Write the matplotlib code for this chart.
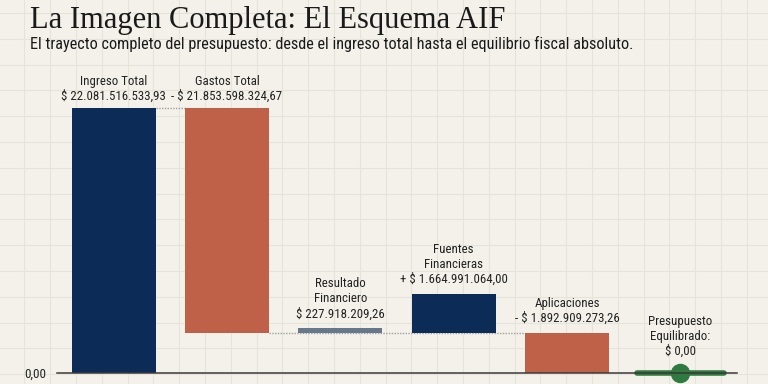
import numpy as np
import matplotlib
matplotlib.use("Agg")
import matplotlib.pyplot as plt
from matplotlib import font_manager

# ---- data ----
categories = ["Ingreso Total", "Gastos Total", "Resultado\nFinanciero",
              "Fuentes\nFinancieras", "Aplicaciones", "Presupuesto\nEquilibrado:"]
ingreso = 22081516533.93
gastos = 21853598324.67
resultado = 227918209.26
fuentes = 1664991064.00
aplicaciones = 1892909273.26
equilibrio = 0.00
value_labels = ["$ 22.081.516.533,93", "- $ 21.853.598.324,67", "$ 227.918.209,26",
                "+ $ 1.664.991.064,00", "- $ 1.892.909.273,26", "$ 0,00"]

# ---- style ----
BG = "#f3f1ea"
GRID = "#e6e3da"
NAVY = "#0c2b57"
RUST = "#bf6148"
SLATE = "#66788a"
GREEN = "#2f7a40"
TXT = "#222222"

names = {f.name for f in font_manager.fontManager.ttflist}
cond = [n for n in ["Roboto Condensed", "Liberation Sans Narrow", "Open Sans Condensed", "Noto Sans Condensed"] if n in names]
LABEL_FAMILY = cond[:1] + ["Roboto", "DejaVu Sans"]

W, H = 768, 384
fig = plt.figure(figsize=(W / 100, H / 100), dpi=100, facecolor=BG)

bg = fig.add_axes([0, 0, 1, 1], zorder=-10)
bg.set_xlim(0, W); bg.set_ylim(H, 0); bg.axis("off")
step = 25.8
for xg in np.arange(-1.5, W, step):
    bg.axvline(xg, color=GRID, lw=0.8, zorder=0)
for yg in np.arange(12.9, H, step):
    bg.axhline(yg, color=GRID, lw=0.8, zorder=0)

# piecewise visual scale (the reference chart is schematic, not linear)
knots_v = np.array([0.0, resultado, resultado + fuentes, ingreso])
knots_p = np.array([0.0, 40.0, 79.0, 265.0])
def fwd_arr(v):
    v = np.asarray(v, dtype=float)
    out = np.interp(v, knots_v, knots_p)
    out = np.where(v > ingreso, knots_p[-1] + (v - ingreso) * (knots_p[-1] - knots_p[-2]) / (knots_v[-1] - knots_v[-2]), out)
    out = np.where(v < 0, v * knots_p[1] / knots_v[1], out)
    return out
def inv_arr(p):
    p = np.asarray(p, dtype=float)
    out = np.interp(p, knots_p, knots_v)
    out = np.where(p > knots_p[-1], ingreso + (p - knots_p[-1]) * (knots_v[-1] - knots_v[-2]) / (knots_p[-1] - knots_p[-2]), out)
    out = np.where(p < 0, p * knots_v[1] / knots_p[1], out)
    return out

ax_left, ax_right = 57, 737
ax_bottom, ax_top = 373, 60
ax = fig.add_axes([ax_left / W, (H - ax_bottom) / H, (ax_right - ax_left) / W, (ax_bottom - ax_top) / H])
ax.set_facecolor("none")
ax.set_yscale("function", functions=(fwd_arr, inv_arr))
ax.set_xlim(-0.5, 5.5)
ax.set_ylim(0, inv_arr(ax_bottom - ax_top).item())

x = np.arange(len(categories))
bw = 0.74
thin_top = inv_arr(fwd_arr(resultado) + 5.5).item()
bottoms = [0, resultado, resultado, resultado, 0]
tops = [ingreso, ingreso, thin_top, resultado + fuentes, resultado]
colors = [NAVY, RUST, SLATE, NAVY, RUST]
for i in range(5):
    ax.bar(x[i], tops[i] - bottoms[i], bottom=bottoms[i], width=bw, color=colors[i], zorder=3)

# connectors
ax.plot([x[0] + bw / 2, x[1] - bw / 2], [ingreso, ingreso], ls=(0, (1, 1)), color="#a0a0a0", lw=1, zorder=2)
ax.plot([x[1] + bw / 2, x[4] - bw / 2], [resultado, resultado], ls=(0, (1, 1)), color="#a0a0a0", lw=1, zorder=2)

# balanced budget marker
ax.plot([x[5] - 0.385, x[5] + 0.385], [equilibrio, equilibrio], color=GREEN, lw=4, solid_capstyle="round", zorder=4, clip_on=False)
ax.plot([x[5]], [equilibrio], "o", ms=13, color=GREEN, zorder=5, clip_on=False)

# labels
lab_font = dict(family=LABEL_FAMILY, fontsize=9.3, color=TXT, ha="center", va="bottom", linespacing=1.2)
label_tops = [ingreso, ingreso, thin_top, resultado + fuentes, resultado, equilibrio]
offsets = [5, 5, 7, 8, 8, 15]
for i in range(6):
    ax.annotate(categories[i] + "\n" + value_labels[i], (x[i], label_tops[i]),
                xytext=(0, offsets[i] * 0.72), textcoords="offset points", **lab_font)

# axis styling
for s in ["top", "right", "left"]:
    ax.spines[s].set_visible(False)
ax.spines["bottom"].set_color("#3a3a3a")
ax.spines["bottom"].set_linewidth(1.1)
ax.spines["bottom"].set_zorder(6)
ax.set_xticks([])
ax.set_yticks([0])
ax.set_yticklabels(["0,00"], family=LABEL_FAMILY, fontsize=9.4, color=TXT)
ax.tick_params(axis="y", length=0, pad=8)
ax.minorticks_off()

# titles
fig.text(30 / W, 1 - 28 / H, "La Imagen Completa: El Esquema AIF", family=["Liberation Serif", "DejaVu Serif"],
         fontsize=22, color="#1a1a1a", ha="left", va="baseline")
fig.text(30 / W, 1 - 49 / H, "El trayecto completo del presupuesto: desde el ingreso total hasta el equilibrio fiscal absoluto.",
         family=LABEL_FAMILY, fontsize=11.7, color="#1a1a1a", ha="left", va="baseline")

fig.savefig("out.png", dpi=100, facecolor=BG)
